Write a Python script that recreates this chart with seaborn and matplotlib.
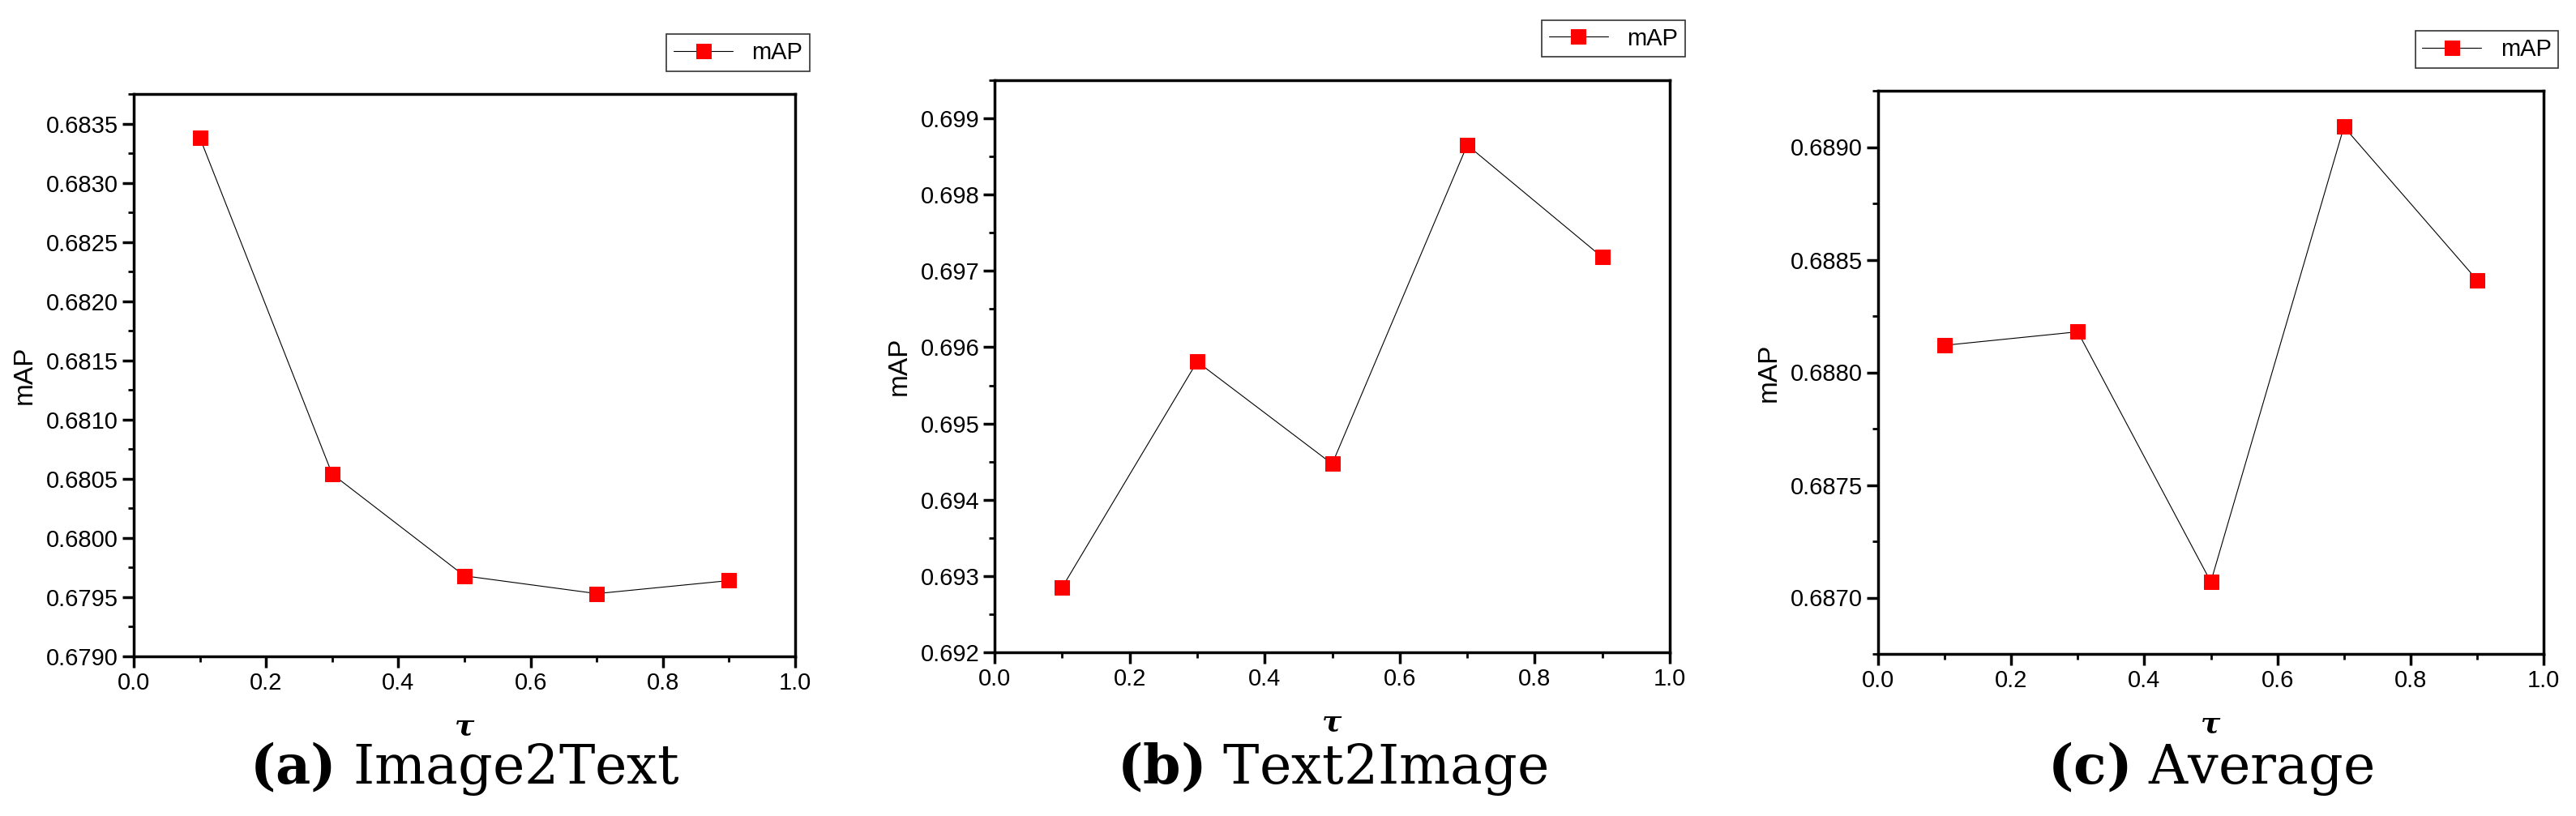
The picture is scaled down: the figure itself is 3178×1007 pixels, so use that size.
import numpy as np
import pandas as pd
import matplotlib
matplotlib.use("Agg")
import matplotlib.pyplot as plt
import seaborn as sns
from matplotlib.ticker import MultipleLocator

tau = [0.1, 0.3, 0.5, 0.7, 0.9]
map_i2t = [0.68338, 0.68054, 0.67968, 0.67953, 0.67964]
map_t2i = [0.69285, 0.69581, 0.69447, 0.69865, 0.69718]
map_avg = [0.68812, 0.68818, 0.68707, 0.68909, 0.68841]
captions = [("a", "Image2Text"), ("b", "Text2Image"), ("c", "Average")]

sns.set_theme(style="ticks")
plt.rcParams['font.family'] = ['Liberation Sans', 'DejaVu Sans']
plt.rcParams['mathtext.fontset'] = 'dejavuserif'
for k in ['text.color', 'axes.labelcolor', 'xtick.color', 'ytick.color', 'axes.edgecolor']:
    plt.rcParams[k] = 'black'

fig = plt.figure(figsize=(31.78, 10.07), dpi=100)
W, H = 3178, 1007
# axes boxes in pixels: left, right, top, bottom
boxes = [(165, 981, 116, 810), (1227, 2060, 99, 805), (2317, 3138, 112, 807)]
ylims = [(0.6790, 0.68375), (0.6920, 0.6995), (0.68675, 0.68925)]
ymaj = [0.0005, 0.001, 0.0005]
ymin = [0.00025, 0.0005, 0.00025]
yfmt = ["%.4f", "%.3f", "%.4f"]
series = [map_i2t, map_t2i, map_avg]

for i in range(3):
    l, r, t, b = boxes[i]
    ax = fig.add_axes([l / W, 1 - b / H, (r - l) / W, (b - t) / H])
    df = pd.DataFrame({"tau": tau, "mAP": series[i]})
    sns.lineplot(data=df, x="tau", y="mAP", ax=ax, color="black", lw=0.8,
                 marker="s", markersize=13, markerfacecolor="red",
                 markeredgecolor="red", label="mAP")
    ax.set_xlim(0, 1)
    ax.set_ylim(*ylims[i])
    ax.xaxis.set_major_locator(MultipleLocator(0.2))
    ax.xaxis.set_minor_locator(MultipleLocator(0.1))
    ax.yaxis.set_major_locator(MultipleLocator(ymaj[i]))
    ax.yaxis.set_minor_locator(MultipleLocator(ymin[i]))
    ax.yaxis.set_major_formatter(matplotlib.ticker.FormatStrFormatter(yfmt[i]))
    ax.tick_params(which="major", direction="out", length=10, width=2.5, labelsize=21)
    ax.tick_params(which="minor", direction="out", length=5, width=2)
    for s in ax.spines.values():
        s.set_linewidth(2.5)
    ax.set_xlabel("τ", fontsize=26, fontstyle="italic", fontweight="bold",
                  family="DejaVu Serif", labelpad=16)
    ax.set_ylabel("mAP", fontsize=24, labelpad=8)
    leg = ax.legend(loc="lower right", bbox_to_anchor=(1.04, 1.02), fontsize=21,
                    frameon=True, fancybox=False, edgecolor="black",
                    handlelength=2.5, borderpad=0.3)
    leg.get_frame().set_linewidth(1.2)
    letter, name = captions[i]
    fig.text((l + r) / 2 / W, 0.058, f"$\\mathbf{{({letter})}}$ {name}",
             ha="center", va="center", fontsize=48, family="DejaVu Serif")

fig.savefig("out.png", dpi=100)
